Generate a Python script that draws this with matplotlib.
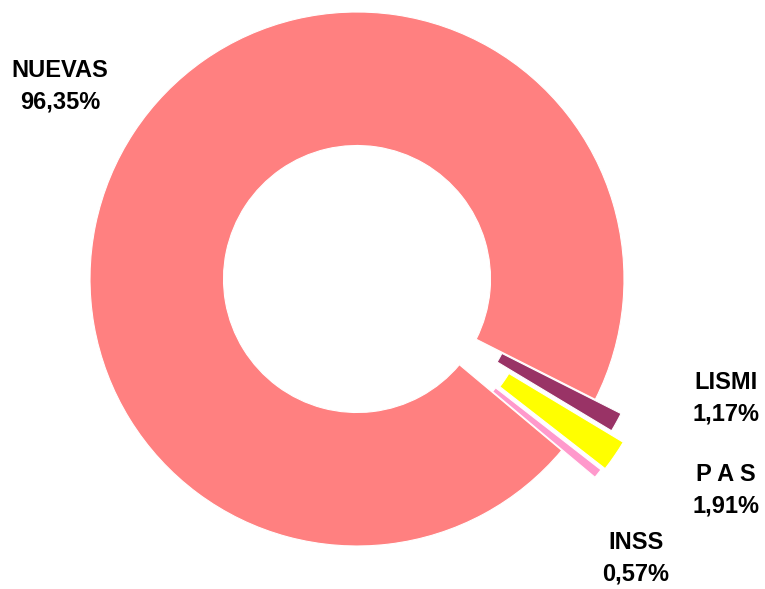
import matplotlib.pyplot as plt
import numpy as np

# data
categorias = ['LISMI', 'P A S', 'INSS', 'NUEVAS']
porcentajes = [1.17, 1.91, 0.57, 96.35]
etiquetas = ['1,17%', '1,91%', '0,57%', '96,35%']
colores = ['#993366', '#FFFF00', '#FF99CC', '#FF8080']
explode = [0.11, 0.17, 0.16, 0.0]

plt.rcParams['font.family'] = ['Liberation Sans Narrow', 'Liberation Sans', 'DejaVu Sans']

W, H = 765, 589
cx, cy, R = 357, 279, 267   # centre and radius in pixels

fig = plt.figure(figsize=(W/100, H/100), dpi=100)
ax = fig.add_axes([0, 0, 1, 1])
ax.set_xlim(-cx/R, (W-cx)/R)
ax.set_ylim(-(H-cy)/R, cy/R)
ax.axis('off')

ax.pie(porcentajes, colors=colores, explode=explode, startangle=-26.8,
       counterclock=False, radius=1.0,
       wedgeprops=dict(width=0.5, edgecolor='white', linewidth=0.8))
ax.set_xlim(-cx/R, (W-cx)/R)
ax.set_ylim(-(H-cy)/R, cy/R)
ax.set_aspect('auto')

# label positions (pixels)
pos = {'LISMI': (726, 398), 'P A S': (726, 490), 'INSS': (636, 558), 'NUEVAS': (60, 86)}
for cat, et in zip(categorias, etiquetas):
    px, py = pos[cat]
    ax.text((px-cx)/R, (cy-py)/R, f'{cat}\n{et}', ha='center', va='center',
            fontsize=17, fontweight='bold', linespacing=1.45)

plt.savefig('out.png', dpi=100, facecolor='w')
